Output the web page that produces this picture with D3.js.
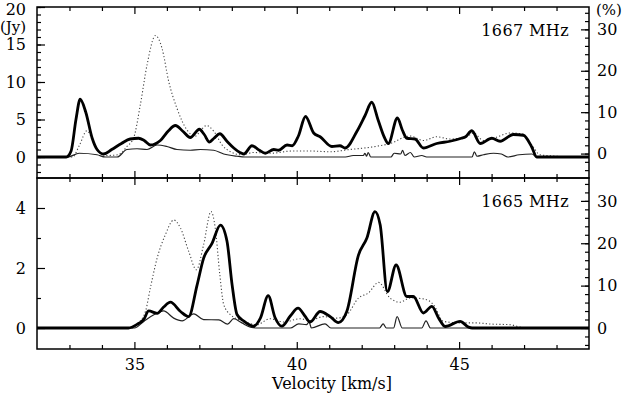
<!DOCTYPE html>
<html>
<head>
<meta charset="utf-8">
<script src="https://cdn.jsdelivr.net/npm/d3@7"></script>
<style>
  body { margin: 0; background: #fff; }
  svg { display: block; }
  text { font-family: "DejaVu Serif", serif; font-size: 16px; fill: #000; }
</style>
</head>
<body>
<svg id="chart" width="623" height="394"></svg>
<script>
// 1667 MHz panel: [velocity km/s, flux Jy]
const thick1667 = [[32,0],[32.9,0],[33.05,0.8],[33.2,5.0],[33.33,7.7],[33.5,6.0],[33.7,2.5],[33.85,1.0],[34.05,0.4],[34.3,1.0],[34.6,1.8],[34.87,2.4],[35.13,2.5],[35.3,2.2],[35.49,1.6],[35.8,2.2],[36.05,3.5],[36.26,4.2],[36.5,3.4],[36.72,2.6],[37.0,3.7],[37.15,3.0],[37.31,2.0],[37.45,2.5],[37.63,3.1],[37.85,2.1],[38.06,1.2],[38.25,0.6],[38.37,0.4],[38.62,1.5],[38.85,0.9],[39.03,0.5],[39.29,1.0],[39.44,0.9],[39.7,1.6],[39.86,1.5],[40.05,2.8],[40.27,5.4],[40.52,3.2],[40.72,2.7],[41.08,1.4],[41.33,1.5],[41.49,1.2],[41.85,3.4],[42.1,5.5],[42.31,7.3],[42.5,5.0],[42.7,2.6],[42.82,1.8],[43.1,5.2],[43.25,3.6],[43.39,2.5],[43.64,2.4],[43.9,1.2],[44.31,1.8],[44.72,2.1],[45.07,2.5],[45.2,2.7],[45.39,3.5],[45.65,1.8],[46.01,2.5],[46.26,2.1],[46.67,3.0],[46.98,2.9],[47.24,1.3],[47.39,0],[49,0]];
const dotted1667 = [[32,0],[33.1,0],[33.3,1.5],[33.54,3.5],[33.7,2.4],[33.85,1.1],[34.16,0.2],[34.5,0.3],[34.77,1.4],[34.98,2.6],[35.18,6.9],[35.39,12.3],[35.65,16.2],[35.85,14.5],[36.06,10.0],[36.31,6.5],[36.62,3.6],[36.88,2.8],[37.05,3.6],[37.22,4.2],[37.45,3.4],[37.7,1.6],[37.96,0.7],[38.3,0.3],[38.67,0.6],[39.2,0.5],[39.86,0.8],[40.4,0.8],[41.03,0.7],[41.64,1.0],[42.26,1.3],[42.87,1.8],[43.49,2.8],[43.9,2.2],[44.31,2.7],[44.72,2.4],[45.23,2.7],[45.44,3.2],[45.75,2.2],[46.06,2.5],[46.57,3.2],[46.93,3.1],[47.24,1.6],[47.49,0.3],[48.0,0.1],[48.3,0],[49,0]];
const thin1667 = [[32,0],[32.95,0],[33.3,0.5],[33.85,0.3],[34.1,0],[34.47,0],[34.77,1.0],[35.08,1.1],[35.39,1.0],[35.7,1.6],[36.0,1.4],[36.31,1.0],[36.72,0.9],[37.03,1.0],[37.44,0.9],[37.75,0.4],[38.16,0.1],[38.4,0],[41.5,0],[41.74,0.2],[42.05,0.2],[42.1,0.5],[42.15,0.1],[42.2,0.6],[42.28,0],[42.9,0],[43.0,0.5],[43.2,0.4],[43.26,0.9],[43.33,0.2],[43.5,0.6],[43.62,0],[43.85,0.2],[44.0,0],[45.4,0],[45.47,0.7],[45.55,0.1],[45.75,0.3],[46.06,0.5],[46.3,0.4],[46.5,0],[46.85,0.3],[47.24,0.4],[47.4,0],[49,0]];

// 1665 MHz panel
const thick1665 = [[32,0],[34.82,0],[35.08,0.12],[35.29,0.29],[35.44,0.57],[35.7,0.49],[35.9,0.7],[36.11,0.86],[36.42,0.55],[36.67,0.38],[36.93,1.43],[37.13,2.32],[37.39,2.82],[37.65,3.43],[37.85,2.9],[38.01,1.43],[38.16,0.45],[38.37,0.23],[38.67,0.06],[38.88,0.33],[39.12,1.08],[39.33,0.35],[39.54,0.06],[39.8,0.4],[40.04,0.66],[40.25,0.4],[40.41,0.2],[40.72,0.55],[41.03,0.38],[41.28,0.18],[41.54,0.55],[41.9,2.43],[42.16,3.0],[42.41,3.88],[42.57,3.43],[42.79,1.21],[43.06,2.1],[43.39,1.05],[43.59,1.05],[43.9,0.5],[44.16,0.72],[44.37,0.33],[44.57,0.05],[45.03,0.22],[45.29,0.03],[45.4,0],[49,0]];
const dotted1665 = [[32,0],[34.9,0],[35.1,0.15],[35.34,0.55],[35.49,1.33],[35.7,2.33],[35.95,3.1],[36.21,3.6],[36.42,3.33],[36.67,2.56],[36.91,1.94],[37.13,2.77],[37.36,3.88],[37.49,3.33],[37.63,1.78],[37.75,0.78],[37.96,0.44],[38.37,0.22],[38.77,0.11],[39.18,0.31],[39.6,0.2],[40.1,0.31],[40.41,0.25],[40.82,0.38],[41.23,0.33],[41.54,0.44],[41.9,1.0],[42.21,1.17],[42.52,1.52],[42.87,1.0],[43.18,0.86],[43.49,1.0],[43.9,0.97],[44.21,0.78],[44.52,0.22],[45.03,0.17],[45.5,0.17],[46.0,0.13],[46.57,0.11],[46.88,0.03],[47.1,0],[49,0]];
const thin1665 = [[32,0],[35.0,0],[35.29,0.22],[35.6,0.44],[35.9,0.57],[36.21,0.33],[36.47,0.24],[36.83,0.47],[37.13,0.28],[37.6,0.27],[37.87,0.13],[38.06,0.31],[38.31,0.17],[38.57,0.03],[38.8,0],[39.8,0],[40.06,0.14],[40.3,0.11],[40.38,0.2],[40.45,0],[40.87,0.14],[41.05,0],[42.55,0],[42.66,0.14],[42.76,0],[42.98,0],[43.09,0.38],[43.25,0],[43.85,0],[43.98,0.24],[44.12,0],[49,0]];

const xMajor = [35, 40, 45];
const xMinor = d3.range(33, 49);

const svg = d3.select("#chart");
const left = 37, right = 589;

const x = d3.scaleLinear().domain([32, 49]).range([left, right]);

const panels = [
  { top: 7, bottom: 178, jy: [-2.8, 20], pct: [-5.9, 35.4],
    jyMajor: [0, 5, 10, 15, 20], jyMinor: d3.range(-2, 21),
    label: "1667 MHz", series: [thin1667, dotted1667, thick1667] },
  { top: 178, bottom: 349, jy: [-0.7, 5], pct: [-4.96, 35.4],
    jyMajor: [0, 2, 4], jyMinor: [1, 3],
    label: "1665 MHz", series: [thin1665, dotted1665, thick1665] }
];

const styles = [
  { w: 1.2, dash: null, c: "#222" },
  { w: 1.1, dash: "1.2,2.2", c: "#444" },
  { w: 2.8, dash: null, c: "#000" }
];

panels.forEach((p, i) => {
  const y = d3.scaleLinear().domain(p.jy).range([p.bottom, p.top]);
  const yr = d3.scaleLinear().domain(p.pct).range([p.bottom, p.top]);
  const g = svg.append("g");

  const clipId = "clip" + i;
  svg.append("clipPath").attr("id", clipId)
    .append("rect").attr("x", left).attr("y", p.top)
    .attr("width", right - left).attr("height", p.bottom - p.top);

  const line = d3.line()
    .x(d => x(d[0]))
    .y(d => y(d[1]))
    .curve(d3.curveMonotoneX);

  p.series.forEach((s, k) => {
    g.append("path")
      .attr("clip-path", `url(#${clipId})`)
      .attr("d", line(s))
      .attr("fill", "none")
      .attr("stroke", styles[k].c)
      .attr("stroke-width", styles[k].w)
      .attr("stroke-dasharray", styles[k].dash)
      .attr("stroke-linejoin", "round");
  });

  const addAxis = (axis, tx, ty, showLabels) => {
    const a = g.append("g").attr("transform", `translate(${tx},${ty})`).call(axis);
    a.select(".domain").remove();
    a.selectAll("line").attr("stroke", "#000").attr("stroke-width", 1.2);
    a.selectAll("text").attr("fill", "#000")
      .style("font-family", '"DejaVu Serif", serif').style("font-size", "16px");
    if (!showLabels) a.selectAll("text").remove();
    return a;
  };

  addAxis(d3.axisLeft(y).tickValues(p.jyMinor).tickSize(-4).tickFormat(""), left, 0, false);
  addAxis(d3.axisLeft(y).tickValues(p.jyMajor).tickSize(-8).tickPadding(11).tickFormat(d3.format("d")), left, 0, true)
    .selectAll("text").filter(d => d === 20).attr("dy", "0.45em");

  addAxis(d3.axisRight(yr).tickValues(d3.range(-4, 36, 2)).tickSize(-4).tickFormat(""), right, 0, false);
  addAxis(d3.axisRight(yr).tickValues([0, 10, 20, 30]).tickSize(-8).tickPadding(8).tickFormat(d3.format("d")), right, 0, true)
    .selectAll("text").attr("text-anchor", "start");

  addAxis(d3.axisBottom(x).tickValues(xMinor.filter(v => !xMajor.includes(v))).tickSize(-4).tickFormat(""), 0, p.bottom, false);
  addAxis(d3.axisBottom(x).tickValues(xMajor).tickSize(-7).tickPadding(10).tickFormat(d3.format("d")), 0, p.bottom, i === 1);
  addAxis(d3.axisTop(x).tickValues(xMinor.filter(v => !xMajor.includes(v))).tickSize(-4).tickFormat(""), 0, p.top, false);
  addAxis(d3.axisTop(x).tickValues(xMajor).tickSize(-7).tickFormat(""), 0, p.top, false);

  g.append("rect")
    .attr("x", left).attr("y", p.top)
    .attr("width", right - left).attr("height", p.bottom - p.top)
    .attr("fill", "none").attr("stroke", "#000").attr("stroke-width", 1.5);

  g.append("text")
    .attr("x", 569).attr("y", p.top + 29)
    .attr("text-anchor", "end")
    .style("letter-spacing", "0.4px")
    .text(p.label);
});

svg.append("text").attr("x", 0).attr("y", 32).style("font-size", "15px").text("(Jy)");
svg.append("text").attr("x", 596).attr("y", 15).style("font-size", "15px").text("(%)");

svg.append("text")
  .attr("x", 332).attr("y", 389)
  .attr("text-anchor", "middle")
  .text("Velocity [km/s]");
</script>
</body>
</html>
